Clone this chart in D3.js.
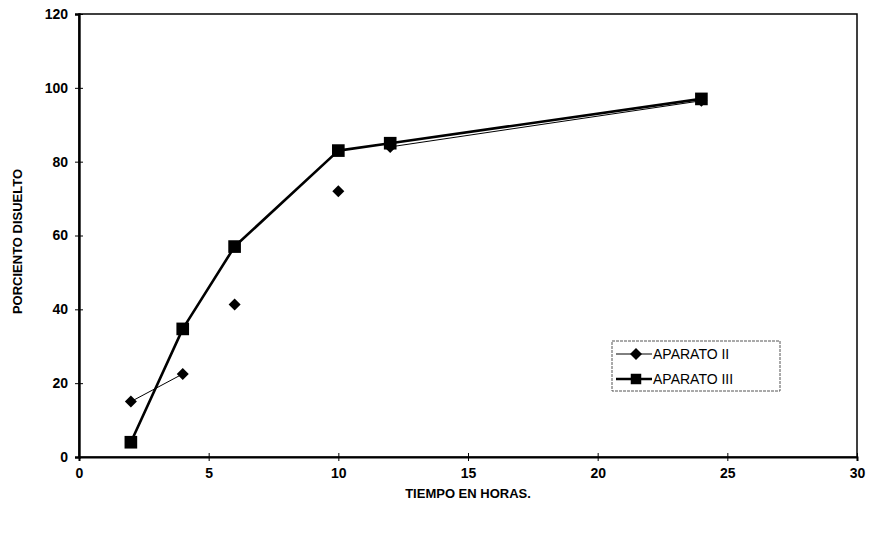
<!DOCTYPE html>
<html>
<head>
<meta charset="utf-8">
<script src="https://cdn.jsdelivr.net/npm/d3@7"></script>
<style>
  html, body { margin: 0; padding: 0; background: #fff; }
  svg text { font-family: "Liberation Sans", Arial, sans-serif; fill: #000; }
</style>
</head>
<body>
<svg id="chart" width="881" height="547"></svg>
<script>
// Dissolution time points (hours)
const horas = [2, 4, 6, 10, 12, 24];
// Percent dissolved per apparatus
const aparatoII = [15, 22.5, 41.3, 72, 84, 96.5];
const aparatoIII = [4, 34.7, 57, 83, 85, 97];
// Segments of APARATO II that are joined by its thin line (index pairs)
const enlacesII = [[0, 1], [4, 5]];
// Axis ticks
const xTicks = [0, 5, 10, 15, 20, 25, 30];
const yTicks = [0, 20, 40, 60, 80, 100, 120];
const nombres = ["APARATO II", "APARATO III"];

const svg = d3.select("#chart");
const m = { left: 79, right: 857, top: 14, bottom: 457 };

const x = d3.scaleLinear().domain([0, 30]).range([m.left, m.right]);
const y = d3.scaleLinear().domain([0, 120]).range([m.bottom, m.top]);

// Plot frame
svg.append("rect")
  .attr("x", m.left).attr("y", m.top)
  .attr("width", m.right - m.left).attr("height", m.bottom - m.top)
  .attr("fill", "none").attr("stroke", "#000").attr("stroke-width", 1.5);

// Y axis
const yAxis = svg.append("g")
  .attr("transform", `translate(${m.left},0)`)
  .call(d3.axisLeft(y).tickValues(yTicks).tickSize(4).tickPadding(7));
yAxis.select(".domain").attr("stroke-width", 2.4);
yAxis.selectAll(".tick line").attr("x2", 4).attr("x1", -4).attr("stroke-width", 1);
yAxis.selectAll("text").style("font-size", "14px").style("font-weight", "bold");

// X axis
const xAxis = svg.append("g")
  .attr("transform", `translate(0,${m.bottom})`)
  .call(d3.axisBottom(x).tickValues(xTicks).tickSize(4).tickPadding(7));
xAxis.select(".domain").attr("stroke-width", 2);
xAxis.selectAll(".tick line").attr("y1", -4).attr("y2", 4).attr("stroke-width", 1);
xAxis.selectAll("text").style("font-size", "14px").style("font-weight", "bold");

// Axis titles
svg.append("text")
  .attr("x", (m.left + m.right) / 2).attr("y", 498)
  .attr("text-anchor", "middle")
  .style("font-size", "13px").style("font-weight", "bold")
  .text("TIEMPO EN HORAS.");
svg.append("text")
  .attr("transform", `translate(22,${(m.top + m.bottom) / 2 + 6}) rotate(-90)`)
  .attr("text-anchor", "middle")
  .style("font-size", "13px").style("font-weight", "bold")
  .text("PORCIENTO DISUELTO");

const ptsII = horas.map((h, i) => [h, aparatoII[i]]);
const ptsIII = horas.map((h, i) => [h, aparatoIII[i]]);
const line = d3.line().x(d => x(d[0])).y(d => y(d[1]));

// APARATO II thin line segments
enlacesII.forEach(([a, b]) => {
  svg.append("path")
    .attr("d", line([ptsII[a], ptsII[b]]))
    .attr("fill", "none").attr("stroke", "#000").attr("stroke-width", 1);
});

// APARATO III thick line
svg.append("path")
  .attr("d", line(ptsIII))
  .attr("fill", "none").attr("stroke", "#000").attr("stroke-width", 2.6)
  .attr("stroke-linejoin", "round");

const diamond = d3.symbol().type(d3.symbolSquare).size(72);
const square = d3.symbol().type(d3.symbolSquare).size(160);

svg.append("g").selectAll("path").data(ptsII).join("path")
  .attr("d", diamond)
  .attr("transform", d => `translate(${x(d[0])},${y(d[1])}) rotate(45)`)
  .attr("fill", "#000");

svg.append("g").selectAll("path").data(ptsIII).join("path")
  .attr("transform", d => `translate(${x(d[0])},${y(d[1])})`)
  .attr("d", square)
  .attr("fill", "#000");

// Legend
const lg = svg.append("g").attr("transform", "translate(612,341)");
lg.append("rect").attr("width", 168).attr("height", 50)
  .attr("fill", "#fff").attr("stroke", "#555").attr("stroke-width", 1)
  .attr("stroke-dasharray", "3,1");
const entries = [
  { name: nombres[0], w: 1, mark: diamond, rot: 45 },
  { name: nombres[1], w: 2.6, mark: d3.symbol().type(d3.symbolSquare).size(110), rot: 0 }
];
entries.forEach((e, i) => {
  const cy = 13 + i * 25;
  lg.append("line").attr("x1", 4).attr("x2", 40).attr("y1", cy).attr("y2", cy)
    .attr("stroke", "#000").attr("stroke-width", e.w);
  lg.append("path").attr("d", e.mark)
    .attr("transform", `translate(24,${cy}) rotate(${e.rot})`).attr("fill", "#000");
  lg.append("text").attr("x", 41).attr("y", cy + 5)
    .style("font-size", "14px").text(e.name);
});
</script>
</body>
</html>
